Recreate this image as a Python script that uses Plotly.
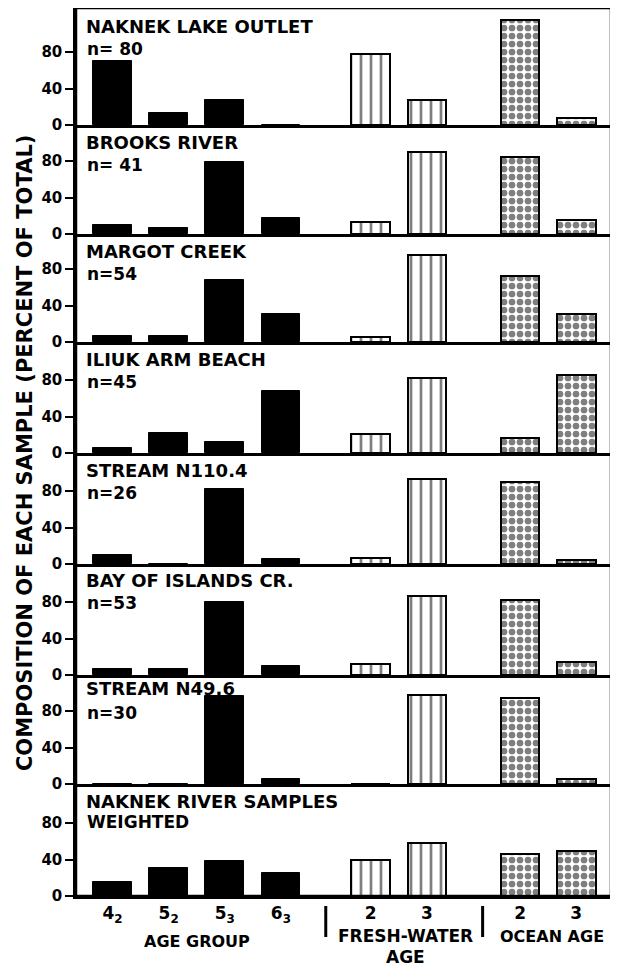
import plotly.graph_objects as go

# ---------------- data ----------------
panel_names = ["NAKNEK LAKE OUTLET", "BROOKS RIVER", "MARGOT CREEK", "ILIUK ARM BEACH",
               "STREAM N110.4", "BAY OF ISLANDS CR.", "STREAM N49.6", "NAKNEK RIVER SAMPLES"]
panel_notes = ["n= 80", "n= 41", "n=54", "n=45", "n=26", "n=53", "n=30", "WEIGHTED"]

age_group_labels = ["4<sub>2</sub>", "5<sub>2</sub>", "5<sub>3</sub>", "6<sub>3</sub>"]
freshwater_labels = ["2", "3"]
ocean_labels = ["2", "3"]

age_group_pct = [
    [70, 13, 28, 0],
    [10, 7, 79, 18],
    [7, 7, 68, 31],
    [6, 22, 12, 68],
    [10, 0, 82, 6],
    [7, 7, 80, 10],
    [0, 0, 97, 6],
    [15, 31, 38, 25],
]
freshwater_pct = [[78, 28], [13, 90], [5, 96], [21, 82], [7, 93], [12, 87], [0, 98], [40, 58]]
ocean_pct = [[115, 8], [85, 15], [72, 31], [16, 86], [90, 4], [82, 14], [95, 6], [46, 49]]

y_ticks = [0, 40, 80]

# ---------------- layout constants (reference pixel coordinates) ----------------
OFF = 8                      # browser body margin
FIG_W, FIG_H = 618 - OFF, 971 - OFF
FRAME_L, FRAME_R, FRAME_T, FRAME_B = 76, 611.5, 8, 896
M_L = FRAME_L - OFF
M_R = FIG_W - (FRAME_R - OFF)
M_T = FRAME_T - OFF
M_B = FIG_H - (FRAME_B - OFF)
PLOT_W = FRAME_R - FRAME_L
PLOT_H = FRAME_B - FRAME_T
baselines_px = [125, 234, 342, 453, 564, 675, 784, 896]
tops_px = [FRAME_T] + baselines_px[:-1]
title_drop_px = [18, 17, 17, 17, 17, 16, 13.5, 17]
note_drop_px = [41, 40, 40, 40, 40, 39, 37.5, 37.5]
PX_PER_UNIT = 0.91
group_start = [0.0, 4.6, 7.26]
X_RANGE = [-0.65, 8.88]
BAR_W = 0.69
FONT = "DejaVu Sans"


def py(px):
    return (FRAME_B - px) / PLOT_H


def px_x(px):
    return (px - FRAME_L) / PLOT_W


age_x = [group_start[0] + i for i in range(len(age_group_labels))]
fw_x = [group_start[1] + i for i in range(len(freshwater_labels))]
oc_x = [group_start[2] + i for i in range(len(ocean_labels))]

fig = go.Figure()
layout = dict(
    width=FIG_W, height=FIG_H,
    margin=dict(l=M_L, r=M_R, t=M_T, b=M_B, pad=0),
    plot_bgcolor="white", paper_bgcolor="white",
    showlegend=False, bargap=0,
    font=dict(family=FONT, color="black", size=16, weight="bold"),
)

annotations = []
shapes = []
n = len(panel_names)
for i in range(n):
    k = "" if i == 0 else str(i + 1)
    xa, ya = "x" + k, "y" + k
    top_px, base_px = tops_px[i], baselines_px[i]
    y_max = (base_px - top_px) / PX_PER_UNIT

    fig.add_trace(go.Bar(x=age_x, y=age_group_pct[i], width=BAR_W, xaxis=xa, yaxis=ya,
                         marker=dict(color="black", line=dict(color="black", width=1))))
    fig.add_trace(go.Bar(x=fw_x, y=freshwater_pct[i], width=BAR_W, xaxis=xa, yaxis=ya,
                         marker=dict(color="white", line=dict(color="black", width=2),
                                     pattern=dict(shape="|", fgcolor="black", bgcolor="white",
                                                  size=10, solidity=0.27))))
    fig.add_trace(go.Bar(x=oc_x, y=ocean_pct[i], width=BAR_W, xaxis=xa, yaxis=ya,
                         marker=dict(color="white", line=dict(color="black", width=2),
                                     pattern=dict(shape=".", fgcolor="black", bgcolor="white",
                                                  size=8, solidity=0.55))))

    last = i == n - 1
    layout["xaxis" + k] = dict(
        domain=[0, 1], anchor=ya, range=X_RANGE, showgrid=False, zeroline=False,
        showline=True, linecolor="black", linewidth=2.5, ticks="",
        showticklabels=last,
        tickvals=age_x + fw_x + oc_x if last else None,
        ticktext=age_group_labels + freshwater_labels + ocean_labels if last else None,
        tickfont=dict(size=17, family=FONT, weight="bold"),
    )
    layout["yaxis" + k] = dict(
        domain=[py(base_px), py(top_px)], anchor=xa, range=[0, y_max],
        showgrid=False, zeroline=False, showline=True, linecolor="black", linewidth=2.5,
        tickvals=y_ticks, ticks="outside", ticklen=8, tickwidth=2, tickcolor="black",
        tickfont=dict(size=15, family=FONT, weight="bold"),
    )
    annotations.append(dict(xref="paper", yref="paper", x=px_x(84), y=py(top_px + title_drop_px[i]),
                            xanchor="left", yanchor="middle", showarrow=False,
                            text=panel_names[i], font=dict(size=18, family=FONT, weight="bold")))
    annotations.append(dict(xref="paper", yref="paper", x=px_x(85), y=py(top_px + note_drop_px[i]),
                            xanchor="left", yanchor="middle", showarrow=False,
                            text=panel_notes[i], font=dict(size=17, family=FONT, weight="bold")))

# axis titles
annotations.append(dict(xref="paper", yref="paper", x=px_x(25), y=py(453), textangle=-90,
                        xanchor="center", yanchor="middle", showarrow=False,
                        text="COMPOSITION OF EACH SAMPLE (PERCENT OF TOTAL)",
                        font=dict(size=21, family=FONT, weight="bold")))
bottom_titles = [("AGE GROUP", 197, 941), ("FRESH-WATER", 406, 936), ("AGE", 406, 957),
                 ("OCEAN AGE", 552, 936)]
for txt, bx, by in bottom_titles:
    annotations.append(dict(xref="paper", yref="paper", x=px_x(bx), y=py(by), xanchor="center",
                            yanchor="middle", showarrow=False, text=txt,
                            font=dict(size=17 if txt in ("FRESH-WATER", "AGE") else 16,
                                      family=FONT, weight="bold")))

# outer frame and group separators
shapes.append(dict(type="rect", xref="paper", yref="paper", x0=0, x1=1, y0=0, y1=1,
                   line=dict(color="black", width=2.5)))
for sx in (326, 483):
    shapes.append(dict(type="line", xref="paper", yref="paper", x0=px_x(sx), x1=px_x(sx),
                       y0=py(906), y1=py(937), line=dict(color="black", width=3)))

layout["annotations"] = annotations
layout["shapes"] = shapes
fig.update_layout(**layout)
fig.write_html("out.html")
